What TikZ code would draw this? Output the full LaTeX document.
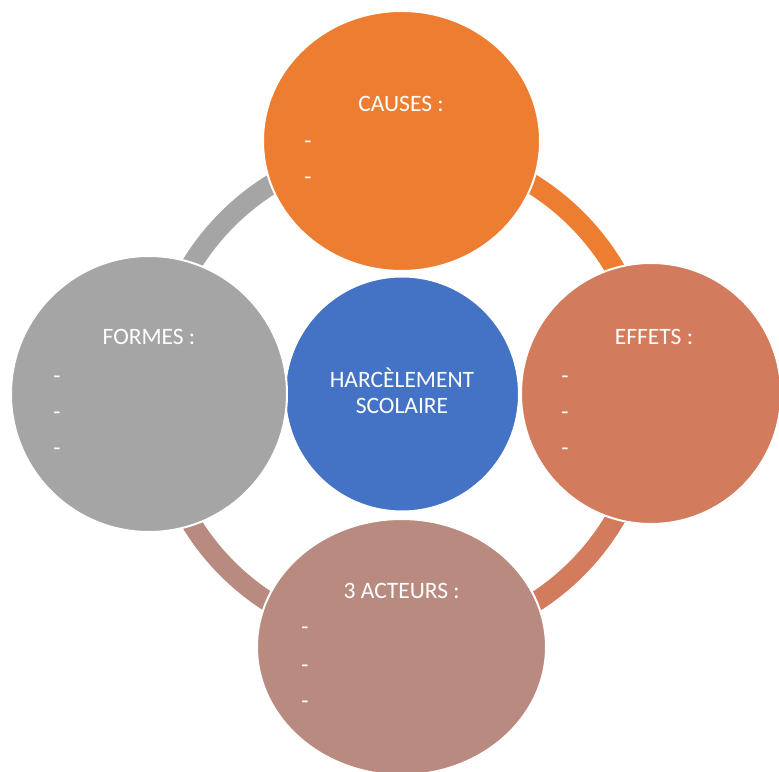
\documentclass[tikz,border=0pt]{standalone}
\usepackage{fontspec}
\setmainfont{Carlito}
\usetikzlibrary{shapes.geometric}
\definecolor{cOrange}{HTML}{ED7D31}
\definecolor{cSalmon}{HTML}{D27B5D}
\definecolor{cMauve}{HTML}{B98A80}
\definecolor{cGray}{HTML}{A5A5A5}
\definecolor{cBlue}{HTML}{4472C4}
\tikzset{
  bubble/.style={ellipse, draw=white, line width=2pt, inner sep=0pt},
  ringarc/.style={line width=20pt},
  ttl/.style={text=white, anchor=base, inner sep=0pt, font=\fontsize{23.5}{25.7}\selectfont},
  dashtxt/.style={text=white, anchor=base, inner sep=0pt, font=\fontsize{23.5}{25.7}\selectfont},
}
\begin{document}
\begin{tikzpicture}[x=1pt,y=1pt]
\useasboundingbox (0,0) rectangle (779,771);
\coordinate (ring) at (402,377);
% ring arcs
\draw[ringarc, cOrange] (ring) ++(90:247) arc[start angle=90, end angle=0, radius=247];
\draw[ringarc, cSalmon] (ring) ++(0:247) arc[start angle=0, end angle=-90, radius=247];
\draw[ringarc, cMauve] (ring) ++(-90:247) arc[start angle=-90, end angle=-180, radius=247];
\draw[ringarc, cGray] (ring) ++(180:247) arc[start angle=180, end angle=90, radius=247];
% bubbles
\node[bubble, fill=cBlue, minimum width=234pt, minimum height=235pt] (center) at (402,377) {};
\node[bubble, fill=cOrange, minimum width=277pt, minimum height=260pt] (causes) at (401.5,630) {};
\node[bubble, fill=cSalmon, minimum width=260pt, minimum height=261pt] (effets) at (651,377.5) {};
\node[bubble, fill=cGray, minimum width=276pt, minimum height=276pt] (formes) at (149,377) {};
\node[bubble, fill=cMauve, minimum width=289pt, minimum height=256pt] (acteurs) at (401.5,124) {};
% texts
\node[ttl] (t1) at (402,383) {HARCÈLEMENT};
\node[ttl] (t2) at (402,357.3) {SCOLAIRE};
\node[ttl] (tc) at (401,659.3) {CAUSES :};
\node[dashtxt] (c1) at (308,622.8) {-};
\node[dashtxt] (c2) at (308,586.2) {-};
\node[ttl] (te) at (654,426) {EFFETS :};
\node[dashtxt] (e1) at (565,387.8) {-};
\node[dashtxt] (e2) at (565,351.8) {-};
\node[dashtxt] (e3) at (565,315.2) {-};
\node[ttl] (tf) at (149,426) {FORMES :};
\node[dashtxt] (f1) at (57,387.8) {-};
\node[dashtxt] (f2) at (57,351.8) {-};
\node[dashtxt] (f3) at (57,315.2) {-};
\node[ttl] (ta) at (401.7,172) {3 ACTEURS :};
\node[dashtxt] (a1) at (305,136.2) {-};
\node[dashtxt] (a2) at (305,98.8) {-};
\node[dashtxt] (a3) at (305,62.2) {-};
\end{tikzpicture}
\end{document}
